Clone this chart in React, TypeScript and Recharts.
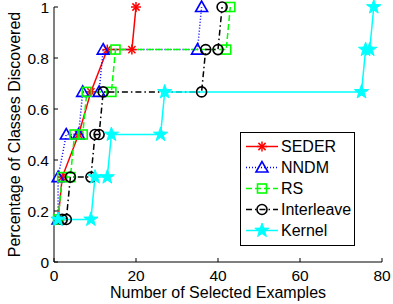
import { LineChart, Line, XAxis, YAxis } from 'recharts';

// x = number of selected examples, y = fraction of classes found
const sederX = [1, 2, 6, 9, 13, 19, 20];
const sederY = [0.167, 0.333, 0.5, 0.667, 0.833, 0.833, 1];

const nndmX = [1, 1, 3, 6, 7, 11, 12, 35, 36];
const nndmY = [0.167, 0.333, 0.5, 0.5, 0.667, 0.667, 0.833, 0.833, 1];

const rsX = [1, 2, 4, 5, 7, 8, 14, 15, 42, 43];
const rsY = [0.167, 0.333, 0.333, 0.5, 0.5, 0.667, 0.667, 0.833, 0.833, 1];

const interleaveX = [2, 3, 4, 9, 10, 11, 12, 36, 37, 40, 41];
const interleaveY = [0.167, 0.167, 0.333, 0.333, 0.5, 0.5, 0.667, 0.667, 0.833, 0.833, 1];

const kernelX = [1, 9, 10, 13, 14, 26, 27, 75, 76, 77, 78];
const kernelY = [0.167, 0.167, 0.333, 0.333, 0.5, 0.5, 0.667, 0.667, 0.833, 0.833, 1];

const xTicks = [0, 20, 40, 60, 80];
const yTicks = [0, 0.2, 0.4, 0.6, 0.8, 1];

const FONT = '"Liberation Sans", Arial, Helvetica, sans-serif';

type Kind = 'asterisk' | 'triangle' | 'square' | 'circle' | 'star';

const series = [
  { name: 'SEDER', xs: sederX, ys: sederY, color: '#ff0000', dash: undefined, kind: 'asterisk' as Kind },
  { name: 'NNDM', xs: nndmX, ys: nndmY, color: '#0000ff', dash: '1 2', kind: 'triangle' as Kind },
  { name: 'RS', xs: rsX, ys: rsY, color: '#00ff00', dash: '6 3', kind: 'square' as Kind },
  { name: 'Interleave', xs: interleaveX, ys: interleaveY, color: '#000000', dash: '6 3 1.5 3', kind: 'circle' as Kind },
  { name: 'Kernel', xs: kernelX, ys: kernelY, color: '#00ffff', dash: undefined, kind: 'star' as Kind },
];

const toPoints = (xs: number[], ys: number[]) => xs.map((x, i) => ({ x, y: ys[i] }));

function starPoints(cx: number, cy: number, R: number) {
  const r = R * 0.4;
  const pts: string[] = [];
  for (let i = 0; i < 10; i++) {
    const a = -Math.PI / 2 + (i * Math.PI) / 5;
    const rad = i % 2 === 0 ? R : r;
    pts.push(`${cx + rad * Math.cos(a)},${cy + rad * Math.sin(a)}`);
  }
  return pts.join(' ');
}

function Marker({ kind, cx, cy, color }: { kind: Kind; cx: number; cy: number; color: string }) {
  if (cx == null || cy == null) return null;
  switch (kind) {
    case 'asterisk': {
      const s = 5;
      const d = 3.6;
      return (
        <g stroke={color} strokeWidth={1.5}>
          <line x1={cx - s} y1={cy} x2={cx + s} y2={cy} />
          <line x1={cx} y1={cy - s} x2={cx} y2={cy + s} />
          <line x1={cx - d} y1={cy - d} x2={cx + d} y2={cy + d} />
          <line x1={cx - d} y1={cy + d} x2={cx + d} y2={cy - d} />
        </g>
      );
    }
    case 'triangle':
      return (
        <polygon
          points={`${cx},${cy - 6} ${cx - 6},${cy + 4.5} ${cx + 6},${cy + 4.5}`}
          fill="none"
          stroke={color}
          strokeWidth={1.6}
        />
      );
    case 'square':
      return <rect x={cx - 4.5} y={cy - 4.5} width={9} height={9} fill="none" stroke={color} strokeWidth={1.6} />;
    case 'circle':
      return <circle cx={cx} cy={cy} r={5} fill="none" stroke={color} strokeWidth={1.6} />;
    case 'star':
      return <polygon points={starPoints(cx, cy, 7.5)} fill={color} stroke={color} strokeWidth={1} />;
  }
  return null;
}

function LeftTick(props: any) {
  const { x, y, payload } = props;
  return (
    <g>
      <line x1={x} y1={y} x2={x + 4} y2={y} stroke="#000" />
      <text x={x - 5} y={y} textAnchor="end" dominantBaseline="central" fontSize={15.5} fontFamily={FONT} fill="#000">
        {String(payload.value)}
      </text>
    </g>
  );
}

function BottomTick(props: any) {
  const { x, y, payload } = props;
  return (
    <g>
      <line x1={x} y1={y} x2={x} y2={y - 4} stroke="#000" />
      <text x={x} y={y + 13} textAnchor="middle" dominantBaseline="central" fontSize={15.5} fontFamily={FONT} fill="#000">
        {String(payload.value)}
      </text>
    </g>
  );
}

function LegendBox() {
  return (
    <div
      style={{
        position: 'absolute',
        left: 240,
        top: 132,
        width: 113,
        border: '1px solid #000',
        background: '#fff',
        padding: '3px 0 4px 0',
        fontFamily: FONT,
        fontSize: 16,
        color: '#000',
      }}
    >
      {series.map((s) => (
        <div key={s.name} style={{ display: 'flex', alignItems: 'center', height: 21 }}>
          <svg width={39} height={21} style={{ display: 'block' }}>
            <line x1={5} y1={10.5} x2={37} y2={10.5} stroke={s.color} strokeWidth={1.5} strokeDasharray={s.dash} />
            <Marker kind={s.kind} cx={21} cy={10.5} color={s.color} />
          </svg>
          <span style={{ marginLeft: 1, lineHeight: '21px' }}>{s.name}</span>
        </div>
      ))}
    </div>
  );
}

export default function App() {
  return (
    <div style={{ position: 'relative', width: 393, height: 304, background: '#fff' }}>
      <style>{`body{margin:0}`}</style>
      <LineChart width={393} height={304} margin={{ top: 7, right: 11, bottom: 0, left: 0 }}>
        <XAxis
          type="number"
          dataKey="x"
          domain={[0, 80]}
          ticks={xTicks}
          interval={0}
          height={42}
          tickSize={0}
          tickMargin={0}
          tickLine={false}
          axisLine={{ stroke: '#000' }}
          tick={<BottomTick />}
          allowDuplicatedCategory={false}
          label={{
            content: (p: any) => {
              const vb = p.viewBox;
              return (
                <text x={vb.x + vb.width / 2} y={vb.y + 30} textAnchor="middle" dominantBaseline="central" fontSize={16} fontFamily={FONT} fill="#000">
                  Number of Selected Examples
                </text>
              );
            },
          }}
        />
        <YAxis
          type="number"
          dataKey="y"
          domain={[0, 1]}
          ticks={yTicks}
          interval={0}
          width={54}
          tickSize={0}
          tickMargin={0}
          tickLine={false}
          axisLine={{ stroke: '#000' }}
          tick={<LeftTick />}
          label={{
            content: (p: any) => {
              const vb = p.viewBox;
              const cx = vb.x + 14;
              const cy = vb.y + vb.height / 2;
              return (
                <text x={cx} y={cy} transform={`rotate(-90 ${cx} ${cy})`} textAnchor="middle" dominantBaseline="central" fontSize={16} fontFamily={FONT} fill="#000">
                  Percentage of Classes Discovered
                </text>
              );
            },
          }}
        />
        {series.map((s) => (
          <Line
            key={s.name}
            data={toPoints(s.xs, s.ys)}
            dataKey="y"
            name={s.name}
            type="linear"
            stroke={s.color}
            strokeWidth={1.5}
            strokeDasharray={s.dash}
            isAnimationActive={false}
            dot={(p: any) => <Marker key={`${s.name}-${p.index}`} kind={s.kind} cx={p.cx} cy={p.cy} color={s.color} />}
            activeDot={false}
          />
        ))}
      </LineChart>
      <LegendBox />
    </div>
  );
}
